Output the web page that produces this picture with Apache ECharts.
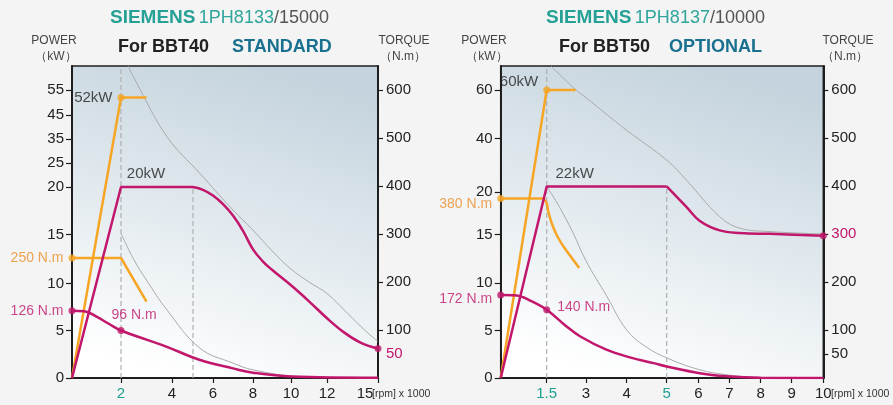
<!DOCTYPE html>
<html><head><meta charset="utf-8">
<script src="https://cdn.jsdelivr.net/npm/echarts@6/dist/echarts.min.js"></script>
<style>html,body{margin:0;padding:0;background:#f4f4f4;}#c{width:893px;height:405px;}</style>
</head><body><div id="c"></div>
<script>
// ===== Panel A : SIEMENS 1PH8133/15000  For BBT40 STANDARD =====
const rpmTicksA = [2, 4, 6, 8, 10, 12, 15];
const powerTicksA = [0, 5, 10, 15, 20, 25, 35, 45, 55];
const torqueLabelsA = [50, 100, 200, 300, 400, 500, 600];
const orangePowerA = [[0, 0], [2, 52], [3, 52]];                 // kW
const orangeTorqueA = [[0, 250], [2, 250], [3, 159]];            // N.m
const magentaPowerA = [[0, 0], [2, 20], [5, 20]];                // kW
const magentaPowerFallA = [[5, 20], [5.5, 19.7], [6, 19.1], [6.5, 18.2], [7, 17.0], [7.5, 15.4], [8, 13.5], [8.5, 12.3], [9, 11.4], [10, 9.8], [11, 8.1], [12, 6.3], [13, 4.8], [14, 3.7], [15, 3.1]];
const magentaTorqueA = [[0, 140], [0.5, 139], [1, 128], [1.5, 113], [2, 99], [3, 80], [3.8, 65], [5.35, 37.5], [7, 20], [8, 11], [10, 3], [15, 0.5]];
const greyUpperA = [[2.28, 650], [2.55, 621], [3.8, 503], [5.35, 426], [7, 350], [8, 308], [9, 265], [10, 227], [11, 200], [12, 176], [13.2, 135], [14.3, 97], [15, 76]];
const greyLowerA = [[2, 301], [2.5, 247], [3, 204], [3.8, 142], [5.35, 62], [7, 31], [8, 17], [10.5, 3], [15, 0]];

// ===== Panel B : SIEMENS 1PH8137/10000  For BBT50 OPTIONAL =====
const rpmTicksB = [1.5, 3, 4, 5, 6, 7, 8, 9, 10];
const powerTicksB = [0, 5, 10, 15, 20, 40, 60];
const torqueLabelsB = [50, 100, 200, 300, 400, 500, 600];
const orangePowerB = [[0, 0], [1.5, 60], [2.6, 60]];
const orangeTorqueB = [[0, 374], [1.39, 374]];
const orangeTorqueFallB = [[1.39, 374], [1.5, 364], [1.56, 347], [1.69, 323], [1.88, 298], [2.13, 275], [2.39, 255], [2.74, 229]];
const magentaPowerB = [[0, 0], [1.5, 22], [5, 22]];
const magentaPowerFallB = [[5, 22], [5.63, 18.2], [6.05, 16.6], [6.69, 15.5], [7.34, 15.2], [8.3, 15.1], [10, 14.9]];
const magentaTorqueB = [[0, 173], [0.52, 172], [1, 160], [1.5, 142], [2.2, 110], [2.77, 87], [3.5, 59], [4.08, 43], [4.67, 31], [5, 24], [6.05, 10], [7.02, 3], [8, 0.5], [10, 0]];
const greyUpperB = [[1.66, 650], [2.62, 600], [3, 584], [4, 516], [5, 454], [5.63, 412], [6.69, 336], [7.34, 312], [8.3, 305], [10, 300]];
const greyLowerB = [[1.5, 399], [2, 355], [2.5, 303], [3, 244], [3.5, 172], [4, 100], [4.5, 64], [5, 42], [6, 18], [7, 6], [8, 1], [10, 0]];

// ----- axis scale design (non-linear printed axes) -----
const SCALE = {
  A: { rpm: [0, 2, 4, 5, 6, 8, 10, 12, 15], pos: [0, 49, 100, 121, 141, 181, 219, 255, 306],
       kw: powerTicksA, nm: [0, 99, 197, 298.5, 398, 448, 498, 548, 600] },
  B: { rpm: [0, 1.5, 3, 4, 5, 6, 7, 8, 9, 10], pos: [0, 46, 85.3, 126, 166, 197.6, 228.6, 260, 291, 322.6],
       kw: powerTicksB, nm: [0, 99, 197.3, 298.5, 388, 499, 600] }
};
function interp(v, xs, ys) {
  for (let i = 1; i < xs.length; i++) {
    if (v <= xs[i] || i === xs.length - 1) {
      const t = (v - xs[i - 1]) / (xs[i] - xs[i - 1]);
      return ys[i - 1] + t * (ys[i] - ys[i - 1]);
    }
  }
}
const X = (p, r) => interp(r, SCALE[p].rpm, SCALE[p].pos);
const PW = (p, k) => interp(k, SCALE[p].kw, SCALE[p].nm);
const mapP = (p, arr) => arr.map(d => [X(p, d[0]), PW(p, d[1])]);
const mapT = (p, arr) => arr.map(d => [X(p, d[0]), d[1]]);

const ORANGE = '#f6a524', ORANGE_T = '#ea8d2a', MAG = '#c1166b', GREY = '#a9a9a9', TEAL = '#1d9f92';
const FONT = '"Liberation Sans", Arial, sans-serif';
const YMAX = 650;
const SM = { smooth: 0.4 };

function idx(p) { return p === 'A' ? { xAxisIndex: 0, yAxisIndex: 1 } : { xAxisIndex: 1, yAxisIndex: 3 }; }
function line(p, data, color, width, extra) {
  return Object.assign({ type: 'line', data, symbol: 'none', silent: true, animation: false, z: 3,
    lineStyle: { color, width } }, idx(p), extra || {});
}
function dashed(p, data) {
  return line(p, data, '#b0b0b0', 1.2, { lineStyle: { color: '#b0b0b0', width: 1.2, type: [5, 3] }, z: 2 });
}
function lbl(text, color, pos, offset, size) {
  return { show: true, formatter: text, color, position: pos, offset: offset || [0, 0], distance: 5,
    fontSize: size || 14, fontFamily: FONT };
}
function dots(p, items) {
  return Object.assign({ type: 'scatter', symbolSize: 7, silent: true, animation: false, z: 6, data: items }, idx(p));
}

const axisCol = '#1e1e1e';
function xAxis(p, grid, ticks, teal, lastPad) {
  const vals = ticks.map(r => X(p, r));
  return {
    gridIndex: grid, type: 'value', min: 0, max: SCALE[p].pos[SCALE[p].pos.length - 1],
    axisLine: { show: true, onZero: false, lineStyle: { color: axisCol, width: 2 } },
    axisTick: { show: true, customValues: vals, length: 5, lineStyle: { color: axisCol, width: 1.2 } },
    splitLine: { show: false },
    axisLabel: {
      customValues: vals, margin: 8, fontSize: 15, color: '#222', fontFamily: FONT,
      formatter: v => {
        const i = vals.findIndex(x => Math.abs(x - v) < 0.01);
        const r = ticks[i];
        if (teal.indexOf(r) >= 0) return '{t|' + r + '}';
        if (lastPad && i === ticks.length - 1) return '{e|' + r + '}';
        return String(r);
      },
      rich: { t: { color: TEAL, fontSize: 15, fontFamily: FONT }, e: { fontSize: 15, color: '#222', fontFamily: FONT, padding: [0, 26, 0, 0] } }
    }
  };
}
function yLeft(p, grid, ticks) {
  const vals = ticks.map(k => PW(p, k));
  return {
    gridIndex: grid, type: 'value', position: 'left', min: 0, max: YMAX,
    axisLine: { show: true, lineStyle: { color: axisCol, width: 2 } },
    axisTick: { show: true, customValues: vals, length: 6, lineStyle: { color: axisCol, width: 1.2 } },
    splitLine: { show: false },
    axisLabel: { customValues: vals, margin: 8, fontSize: 15, color: '#222', fontFamily: FONT,
      formatter: v => String(ticks[vals.findIndex(x => Math.abs(x - v) < 0.01)]) }
  };
}
function yRight(p, grid, labels, magVal, tickSkip) {
  return {
    gridIndex: grid, type: 'value', position: 'right', min: 0, max: YMAX,
    axisLine: { show: true, lineStyle: { color: axisCol, width: 2 } },
    axisTick: { show: true, customValues: labels.filter(v => tickSkip.indexOf(v) < 0), length: 5, lineStyle: { color: axisCol, width: 1.2 } },
    splitLine: { show: false },
    axisLabel: { customValues: labels, margin: 8, fontSize: 15, color: '#222', fontFamily: FONT,
      formatter: v => (Math.abs(v - magVal) < 0.01 ? '{m|' + v + '}' : String(v)),
      rich: { m: { color: MAG, fontSize: 15, fontFamily: FONT } } }
  };
}
function gridBg() {
  return new echarts.graphic.LinearGradient(0.35, 1, 0.65, 0, [
    { offset: 0, color: '#ffffff' }, { offset: 0.3, color: '#edf2f5' }, { offset: 1, color: '#c4d3dd' }]);
}

const series = [
  // ---- Panel A ----
  line('A', mapT('A', greyUpperA), GREY, 1, Object.assign({ z: 2 }, SM)),
  line('A', mapT('A', greyLowerA), GREY, 1, Object.assign({ z: 2 }, SM)),
  dashed('A', [[X('A', 2), 0], [X('A', 2), YMAX]]),
  dashed('A', [[X('A', 5), 0], [X('A', 5), PW('A', 20)]]),
  line('A', mapP('A', orangePowerA), ORANGE, 2.5),
  line('A', mapT('A', orangeTorqueA), ORANGE, 2.5),
  line('A', mapP('A', magentaPowerA), MAG, 2.5),
  line('A', mapP('A', magentaPowerFallA), MAG, 2.5, SM),
  line('A', mapT('A', magentaTorqueA), MAG, 2.5, SM),
  dots('A', [
    { value: mapP('A', [orangePowerA[1]])[0], itemStyle: { color: ORANGE }, label: lbl('52kW', '#222', 'left', [0, 0], 15) },
    { value: mapT('A', [orangeTorqueA[0]])[0], itemStyle: { color: ORANGE }, label: lbl('250 N.m', ORANGE_T, 'left', [0, 0]) },
    { value: mapP('A', [magentaPowerA[1]])[0], symbolSize: 0, label: lbl('20kW', '#222', 'top', [25, -1], 15) },
    { value: mapT('A', [magentaTorqueA[0]])[0], itemStyle: { color: MAG }, label: lbl('126 N.m', MAG, 'left', [0, 0]) },
    { value: mapT('A', [magentaTorqueA[4]])[0], itemStyle: { color: MAG }, label: lbl('96 N.m', MAG, 'top', [13, 0]) },
    { value: mapP('A', [magentaPowerFallA[magentaPowerFallA.length - 1]])[0], itemStyle: { color: MAG } }
  ]),
  // ---- Panel B ----
  line('B', mapT('B', greyUpperB), GREY, 1, Object.assign({ z: 2 }, SM)),
  line('B', mapT('B', greyLowerB), GREY, 1, Object.assign({ z: 2 }, SM)),
  dashed('B', [[X('B', 1.5), 0], [X('B', 1.5), YMAX]]),
  dashed('B', [[X('B', 5), 0], [X('B', 5), PW('B', 22)]]),
  line('B', mapP('B', orangePowerB), ORANGE, 2.5),
  line('B', mapT('B', orangeTorqueB), ORANGE, 2.5),
  line('B', mapT('B', orangeTorqueFallB), ORANGE, 2.5, SM),
  line('B', mapP('B', magentaPowerB), MAG, 2.5),
  line('B', mapP('B', magentaPowerFallB), MAG, 2.5, SM),
  line('B', mapT('B', magentaTorqueB), MAG, 2.5, SM),
  dots('B', [
    { value: mapP('B', [orangePowerB[1]])[0], itemStyle: { color: ORANGE }, label: lbl('60kW', '#222', 'left', [0, -8], 15) },
    { value: mapT('B', [orangeTorqueB[0]])[0], itemStyle: { color: ORANGE }, label: lbl('380 N.m', ORANGE_T, 'left', [0, 6]) },
    { value: mapP('B', [magentaPowerB[1]])[0], symbolSize: 0, label: lbl('22kW', '#222', 'top', [28, 0], 15) },
    { value: mapT('B', [magentaTorqueB[0]])[0], itemStyle: { color: MAG }, label: lbl('172 N.m', MAG, 'left', [0, 4]) },
    { value: mapT('B', [magentaTorqueB[3]])[0], itemStyle: { color: MAG }, label: lbl('140 N.m', MAG, 'right', [2, -3]) },
    { value: mapP('B', [magentaPowerFallB[magentaPowerFallB.length - 1]])[0], itemStyle: { color: MAG } }
  ])
];

function txt(x, y, text, fill, font, align) {
  return { type: 'text', x, y, silent: true,
    style: { text, fill, font, align: align || 'center', verticalAlign: 'middle' } };
}
function title(x, model, speed) {
  return { type: 'text', x, y: 18, silent: true, style: {
    text: '{a|SIEMENS} {b|' + model + '}{c|/' + speed + '}', verticalAlign: 'middle', align: 'left',
    rich: {
      a: { fontSize: 19, fontWeight: 'bold', fill: '#26a195', fontFamily: FONT },
      b: { fontSize: 18, fill: '#2fa59b', fontFamily: FONT },
      c: { fontSize: 18, fill: '#555555', fontFamily: FONT }
    } } };
}

const chart = echarts.init(document.getElementById('c'), null, { renderer: 'canvas' });
chart.setOption({
  backgroundColor: '#f4f4f4',
  animation: false,
  grid: [
    { left: 72, top: 66, width: 306, height: 312, show: true, backgroundColor: gridBg(), borderColor: axisCol, borderWidth: 1.5 },
    { left: 500.7, top: 66, width: 322.6, height: 312, show: true, backgroundColor: gridBg(), borderColor: axisCol, borderWidth: 1.5 }
  ],
  xAxis: [xAxis('A', 0, rpmTicksA, [2], true), xAxis('B', 1, rpmTicksB, [1.5, 5], false)],
  yAxis: [
    yLeft('A', 0, powerTicksA),
    yRight('A', 0, torqueLabelsA, 50, [50]),
    yLeft('B', 1, powerTicksB),
    yRight('B', 1, torqueLabelsB, 300, [])
  ],
  series,
  graphic: [
    title(110, '1PH8133', '15000'),
    title(546, '1PH8137', '10000'),
    txt(118, 47, 'For BBT40', '#222', 'bold 18px ' + FONT, 'left'),
    txt(232, 47, 'STANDARD', '#19708f', 'bold 18px ' + FONT, 'left'),
    txt(559, 47, 'For BBT50', '#222', 'bold 18px ' + FONT, 'left'),
    txt(669, 47, 'OPTIONAL', '#19708f', 'bold 18px ' + FONT, 'left'),
    txt(54, 41, 'POWER', '#444', '12px ' + FONT),
    txt(56, 57, '（kW）', '#444', '12px ' + FONT),
    txt(404, 41, 'TORQUE', '#444', '12px ' + FONT),
    txt(403, 57, '（N.m）', '#444', '12px ' + FONT),
    txt(484, 41, 'POWER', '#444', '12px ' + FONT),
    txt(487, 57, '（kW）', '#444', '12px ' + FONT),
    txt(848, 41, 'TORQUE', '#444', '12px ' + FONT),
    txt(845, 57, '（N.m）', '#444', '12px ' + FONT),
    txt(372, 394, '[rpm] x 1000', '#333', '10.5px ' + FONT, 'left'),
    txt(831, 394, '[rpm] x 1000', '#333', '10.5px ' + FONT, 'left')
  ]
});
</script>
</body></html>
